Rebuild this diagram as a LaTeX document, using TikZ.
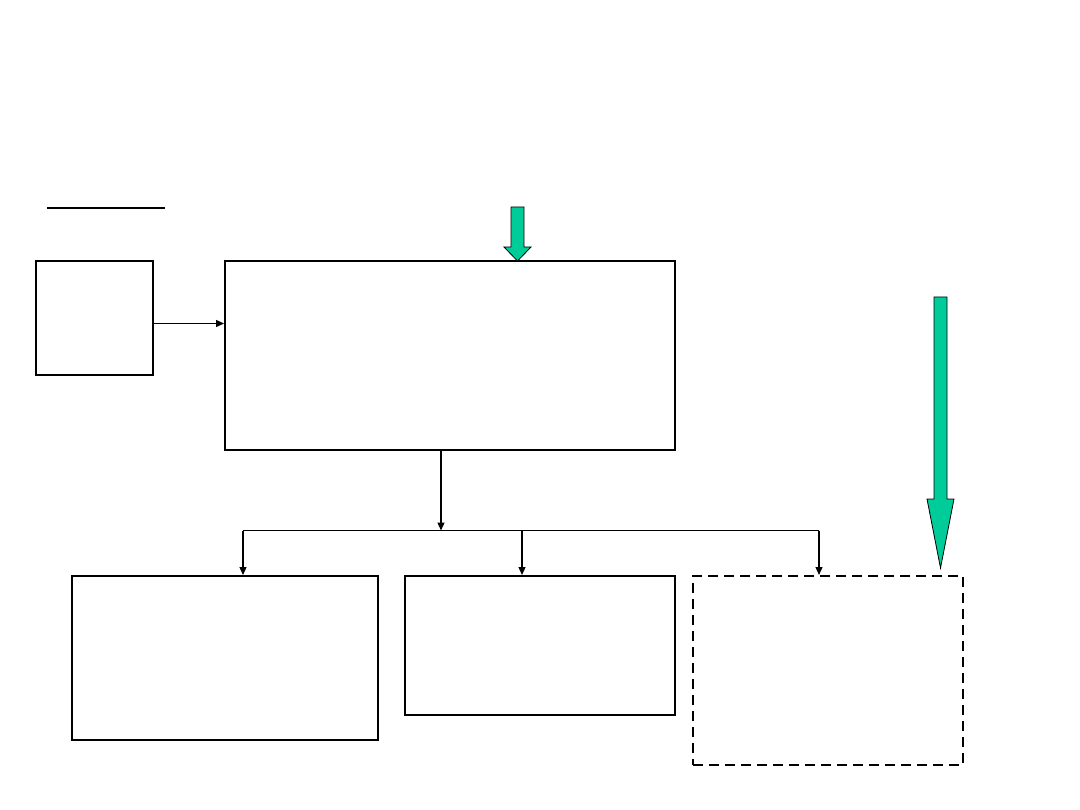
\documentclass[tikz,border=0pt]{standalone}
\usetikzlibrary{arrows.meta}
\definecolor{grn}{HTML}{00CC99}
\begin{document}
\begin{tikzpicture}[x=1pt,y=-1pt,
  box/.style={draw=black,line width=2pt,inner sep=0pt,minimum width=#1},
  conn/.style={draw=black,line width=1.3pt,-{Triangle[length=8pt,width=7pt]}},
  line/.style={draw=black,line width=1.3pt},
  garrow/.style={fill=grn,draw=black,line width=0.8pt,line join=miter}]
\useasboundingbox (0,0) rectangle (1080,810);
\fill[white] (0,0) rectangle (1080,810);
% underline at top left
\coordinate (u1) at (47,208.5);
\coordinate (u2) at (165,208.5);
\draw[line width=2pt] (u1) -- (u2);
% boxes
\node[box=117pt,minimum height=114pt] (a) at (94.5,318) {};
\node[box=450pt,minimum height=189pt] (m) at (450,355.5) {};
\node[box=306pt,minimum height=164pt] (l) at (225,658) {};
\node[box=270pt,minimum height=139pt] (c) at (540,645.5) {};
\node[box=270pt,minimum height=189pt,dash pattern=on 10pt off 6pt] (r) at (828,670.5) {};
% connectors
\draw[conn] (a.east |- 0,323.5) -- (m.west |- 0,323.5);
\coordinate (j) at (441,530.5);
\coordinate (jl) at (243,530.5);
\coordinate (jr) at (819,530.5);
\coordinate (jc) at (522,530.5);
\draw[conn] (m.south -| j) -- (j);
\draw[line] (jl) -- (jr);
\draw[conn] (jl) -- (jl |- l.north);
\draw[conn] (jc) -- (jc |- c.north);
\draw[conn] (jr) -- (jr |- r.north);
% green block arrows
\draw[garrow] (511,207) -- (524,207) -- (524,247) -- (531,247) -- (517.5,261) -- (504,247) -- (511,247) -- cycle;
\draw[garrow] (934,297) -- (947,297) -- (947,499) -- (954,499) -- (940.5,568) -- (927,499) -- (934,499) -- cycle;
\end{tikzpicture}
\end{document}
